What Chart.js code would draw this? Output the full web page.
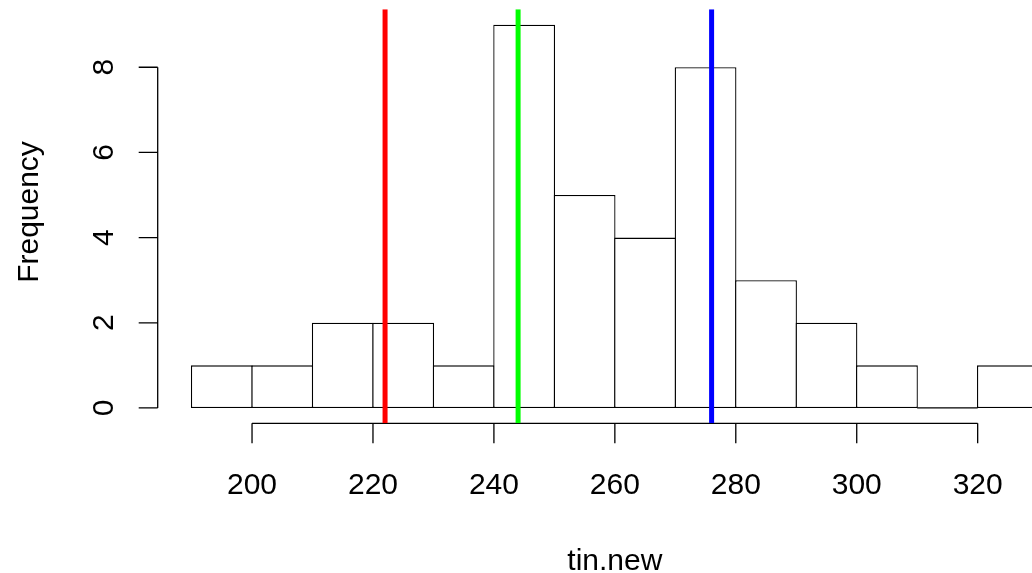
<!DOCTYPE html>
<html>
<head>
<meta charset="utf-8">
<script src="https://cdn.jsdelivr.net/npm/chart.js@4/dist/chart.umd.min.js"></script>
<style>
    html, body { margin: 0; padding: 0; background: #ffffff; overflow: hidden; }
    #wrap { width: 1120px; height: 573px; }
</style>
</head>
<body>
<div id="wrap"><canvas id="histChart" width="1120" height="573"></canvas></div>
<script>
// histogram of tin.new
const binStarts = [190, 200, 210, 220, 230, 240, 250, 260, 270, 280, 290, 300, 310, 320];
const binCounts = [1, 1, 2, 2, 1, 9, 5, 4, 8, 3, 2, 1, 0, 1];
const binWidth = 10;

// abline positions
const refLines = [222, 244, 276];
const refColors = ["#ff0000", "#00ff00", "#0000ff"];

const xTicks = [200, 220, 240, 260, 280, 300, 320];
const yTicks = [0, 2, 4, 6, 8];
const xLimits = [184.4, 335.6];
const yLimits = [-0.36, 9.36];

const xLabel = "tin.new";
const yLabel = "Frequency";

const FONT = '30px "Liberation Sans", Arial, sans-serif';
const EDGE = 1.3;

const barData = binStarts.map((start, i) => ({ x: start + binWidth / 2, y: binCounts[i] }));

// empty bins still show their bottom edge
const emptyBinData = [];
binStarts.forEach((start, i) => {
    if (binCounts[i] === 0) {
        emptyBinData.push({ x: start, y: 0 }, { x: start + binWidth, y: 0 }, { x: NaN, y: NaN });
    }
});

const refLineDatasets = refLines.map((value, i) => ({
    type: "line",
    data: [{ x: value, y: yLimits[0] }, { x: value, y: yLimits[1] }],
    borderColor: refColors[i],
    borderWidth: 5,
    borderCapStyle: "butt",
    pointRadius: 0,
    order: 0
}));

const rAxesPlugin = {
    id: "rAxes",
    beforeDatasetsDraw(chart) {
        const { ctx, chartArea, scales: { x, y } } = chart;
        ctx.save();
        ctx.strokeStyle = "#000000";
        ctx.fillStyle = "#000000";
        ctx.lineWidth = EDGE;
        ctx.font = FONT;

        // x axis
        const axisY = chartArea.bottom;
        ctx.beginPath();
        ctx.moveTo(x.getPixelForValue(xTicks[0]), axisY);
        ctx.lineTo(x.getPixelForValue(xTicks[xTicks.length - 1]), axisY);
        xTicks.forEach(t => {
            const px = x.getPixelForValue(t);
            ctx.moveTo(px, axisY);
            ctx.lineTo(px, axisY + 20);
        });
        ctx.stroke();

        ctx.textAlign = "center";
        ctx.textBaseline = "alphabetic";
        xTicks.forEach(t => {
            ctx.fillText(String(t), x.getPixelForValue(t), 494);
        });
        ctx.fillText(xLabel, (chartArea.left + chartArea.right) / 2, 570);

        // y axis
        const axisX = chartArea.left;
        ctx.beginPath();
        ctx.moveTo(axisX, y.getPixelForValue(yTicks[0]));
        ctx.lineTo(axisX, y.getPixelForValue(yTicks[yTicks.length - 1]));
        yTicks.forEach(t => {
            const py = y.getPixelForValue(t);
            ctx.moveTo(axisX, py);
            ctx.lineTo(axisX - 19, py);
        });
        ctx.stroke();

        yTicks.forEach(t => {
            ctx.save();
            ctx.translate(113, y.getPixelForValue(t));
            ctx.rotate(-Math.PI / 2);
            ctx.fillText(String(t), 0, 0);
            ctx.restore();
        });

        ctx.save();
        ctx.translate(38, 212);
        ctx.rotate(-Math.PI / 2);
        ctx.fillText(yLabel, 0, 0);
        ctx.restore();

        ctx.restore();
    }
};

new Chart(document.getElementById("histChart"), {
    type: "bar",
    data: {
        datasets: [
            {
                type: "bar",
                data: barData,
                backgroundColor: "#ffffff",
                borderColor: "#000000",
                borderWidth: EDGE,
                borderSkipped: false,
                barPercentage: 1.0215,
                categoryPercentage: 1,
                order: 2
            },
            {
                type: "line",
                data: emptyBinData,
                borderColor: "#000000",
                borderWidth: EDGE,
                pointRadius: 0,
                spanGaps: false,
                order: 1
            },
            ...refLineDatasets
        ]
    },
    options: {
        responsive: false,
        animation: false,
        events: [],
        layout: {
            padding: { left: 157.7, top: 9.3, right: 48, bottom: 149.7 }
        },
        plugins: {
            legend: { display: false },
            tooltip: { enabled: false },
            title: { display: false }
        },
        scales: {
            x: {
                type: "linear",
                display: false,
                min: xLimits[0],
                max: xLimits[1],
                offset: false,
                grid: { display: false }
            },
            y: {
                type: "linear",
                display: false,
                min: yLimits[0],
                max: yLimits[1],
                grid: { display: false }
            }
        }
    },
    plugins: [rAxesPlugin]
});
</script>
</body>
</html>
